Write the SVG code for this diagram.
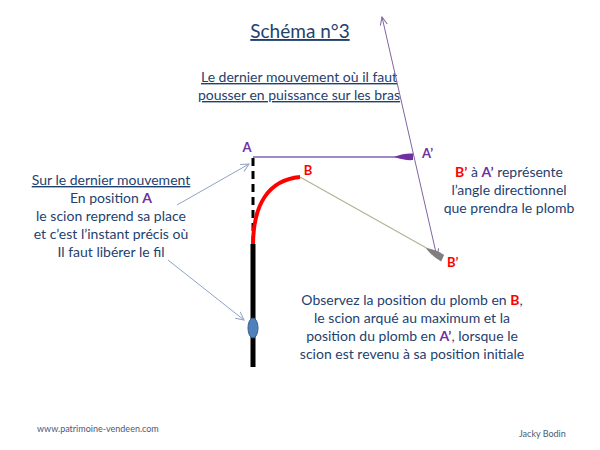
<svg xmlns="http://www.w3.org/2000/svg" width="600" height="450" viewBox="0 0 600 450">
<defs>
<style>
text{font-family:Lato,"Liberation Sans",sans-serif;fill:#1f416e}
.c{text-anchor:middle}
.t{font-size:14px}
.lbl{font-weight:bold;font-size:13px}
.pu{fill:#7030a0}
.rd{fill:#ff0000}
.ft{font-size:9px;fill:#4a5a78}
</style>
<marker id="ah" markerWidth="10" markerHeight="10" refX="9" refY="5" orient="auto" markerUnits="userSpaceOnUse">
<path d="M1,1 L9,5 L1,9" fill="none" stroke="#8fa3c4" stroke-width="1"/>
</marker>
<marker id="ap" markerWidth="10" markerHeight="10" refX="9" refY="5" orient="auto-start-reverse" markerUnits="userSpaceOnUse">
<path d="M1,1.5 L9,5 L1,8.5" fill="none" stroke="#8064a2" stroke-width="1"/>
</marker>
</defs>
<rect width="600" height="450" fill="#ffffff"/>

<g id="title">
<text x="300" y="38" class="c" style="font-size:19px;text-decoration:underline">Schéma n°3</text>
<text x="299" y="82" class="c t" style="text-decoration:underline">Le dernier mouvement où il faut</text>
<text x="299" y="100" class="c t" style="text-decoration:underline">pousser en puissance sur les bras</text>
</g>

<g id="connectors" fill="none">
<line x1="382" y1="17" x2="437" y2="257" stroke="#8064a2" stroke-width="1" marker-start="url(#ap)" marker-end="url(#ap)"/>
<line x1="253" y1="157" x2="412" y2="157" stroke="#9d8cc4" stroke-width="1.8"/>
<line x1="300" y1="177" x2="430" y2="250" stroke="#b5b394" stroke-width="1.2"/>
<line x1="177" y1="205" x2="249" y2="164" stroke="#8fa3c4" stroke-width="1" marker-end="url(#ah)"/>
<line x1="168" y1="260" x2="244" y2="320" stroke="#8fa3c4" stroke-width="1" marker-end="url(#ah)"/>
</g>

<g id="rod">
<line x1="253" y1="158" x2="253" y2="246" stroke="#000" stroke-width="3" stroke-dasharray="8,5"/>
<path d="M253,246 C253,205 268,180 300,177" fill="none" stroke="#ff0000" stroke-width="4"/>
<line x1="253" y1="244" x2="253" y2="367" stroke="#000" stroke-width="5"/>
<ellipse cx="253" cy="328" rx="5" ry="10" fill="#4f81bd" stroke="#385d8a" stroke-width="1"/>
</g>

<g id="lure-a">
<path d="M394,157 C401,154 408,153 413,153.5 L413,160 C408,160.5 401,159.5 394,157 Z" fill="#7030a0"/>
</g>
<g id="lure-b">
<path d="M0,0 C6,-2.5 13,-4.5 19,-4 L20,3 C13,3.5 6,2.5 0,0 Z" fill="#7f7f7f" transform="translate(426,248) rotate(33)"/>
</g>

<g id="labels">
<text x="247" y="152" class="c lbl pu">A</text>
<text x="308" y="175" class="c lbl rd">B</text>
<text x="422" y="158" class="lbl pu">A’</text>
<text x="447" y="267" class="lbl rd">B’</text>
</g>

<g id="left-text">
<text x="111" y="185" class="c t" style="text-decoration:underline">Sur le dernier mouvement</text>
<text x="111" y="203" class="c t">En position <tspan class="pu" font-weight="bold">A</tspan></text>
<text x="111" y="221" class="c t">le scion reprend sa place</text>
<text x="111" y="239" class="c t">et c’est l’instant précis où</text>
<text x="111" y="257" class="c t">Il faut libérer le fil</text>
</g>

<g id="right-text">
<text x="509" y="177" class="c t"><tspan class="rd" font-weight="bold">B’</tspan> à <tspan class="pu" font-weight="bold">A’</tspan> représente</text>
<text x="509" y="195" class="c t">l’angle directionnel</text>
<text x="509" y="213" class="c t">que prendra le plomb</text>
</g>

<g id="bottom-text">
<text x="412" y="305" class="c t">Observez la position du plomb en <tspan class="rd" font-weight="bold">B</tspan>,</text>
<text x="412" y="323" class="c t">le scion arqué au maximum et la</text>
<text x="412" y="341" class="c t">position du plomb en <tspan class="pu" font-weight="bold">A’</tspan>, lorsque le</text>
<text x="412" y="359" class="c t">scion est revenu à sa position initiale</text>
</g>

<g id="footer">
<text x="37" y="432" class="ft">www.patrimoine-vendeen.com</text>
<text x="519" y="437" class="ft">Jacky Bodin</text>
</g>
</svg>
